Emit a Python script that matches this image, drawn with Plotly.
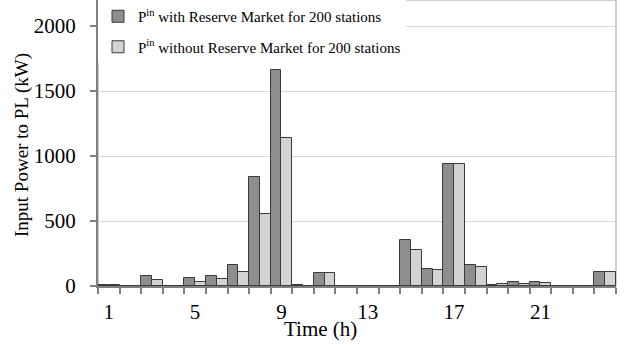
import plotly.graph_objects as go

hours = list(range(1, 25))
with_reserve = [5, 0, 77, 0, 59, 79, 161, 838, 1665, 5, 100, 0,
                0, 0, 354, 131, 942, 159, 5, 30, 30, 0, 0, 108]
without_reserve = [5, 0, 48, 0, 28, 51, 107, 557, 1142, 0, 100, 0,
                   0, 0, 280, 125, 942, 143, 15, 18, 25, 0, 0, 108]
x_tick_vals = [1, 5, 9, 13, 17, 21]
x_tick_text = ["1", "5", "9", "13", "17", "21"]
y_tick_vals = [0, 500, 1000, 1500, 2000]

FONT = "Liberation Serif, Times New Roman, serif"

fig = go.Figure()
fig.add_trace(go.Bar(
    x=hours, y=with_reserve,
    name="P<sup>in</sup> with Reserve Market for 200 stations",
    marker=dict(color="#8e8e8e", line=dict(color="#3a3a3a", width=1)),
    legendgroup="a",
))
fig.add_trace(go.Bar(
    x=hours, y=without_reserve,
    name="P<sup>in</sup> without Reserve Market for 200 stations",
    marker=dict(color="#d3d3d3", line=dict(color="#3a3a3a", width=1)),
    legendgroup="b",
))

fig.update_layout(
    width=633, height=345,
    margin=dict(l=98, r=17, t=0, b=59),
    paper_bgcolor="white", plot_bgcolor="white",
    barmode="group", bargap=0, bargroupgap=0,
    font=dict(family=FONT, color="black", size=20),
    showlegend=True,
    legend=dict(
        x=0, y=1, xanchor="left", yanchor="top",
        bgcolor="white", borderwidth=0,
        font=dict(family=FONT, size=15, color="black"),
        traceorder="grouped", tracegroupgap=8,
        itemwidth=30,
    ),
    xaxis=dict(
        range=[0.5, 24.5],
        tickmode="array", tickvals=x_tick_vals, ticktext=x_tick_text,
        ticks="", showgrid=False, zeroline=False,
        showline=True, linecolor="#7f7f7f", linewidth=2,
        ticklabelstandoff=6,
        tickfont=dict(family=FONT, size=21, color="black"),
        minor=dict(tickvals=[h - 0.5 for h in hours] + [24.5],
                   ticks="outside", ticklen=6, tickcolor="#7f7f7f",
                   tickwidth=2, showgrid=False),
    ),
    yaxis=dict(
        range=[0, 2200],
        tickmode="array", tickvals=y_tick_vals,
        ticks="outside", ticklen=6, tickcolor="#7f7f7f", tickwidth=2,
        showgrid=True, gridcolor="#d9d9d9", gridwidth=1,
        zeroline=False,
        showline=True, linecolor="#7f7f7f", linewidth=2,
        ticklabelstandoff=10,
        tickfont=dict(family=FONT, size=21, color="black"),
    ),
    shapes=[dict(type="rect", xref="paper", yref="paper", x0=0, x1=1, y0=0, y1=1,
                 line=dict(color="#bfbfbf", width=1.5), layer="below")],
    annotations=[
        dict(text="Time (h)", xref="paper", yref="paper",
             x=(320 - 98) / 518, y=-(329 - 286) / 286, showarrow=False,
             xanchor="center", yanchor="middle",
             font=dict(family=FONT, size=21, color="black")),
        dict(text="Input Power to PL (kW)", xref="paper", yref="paper",
             x=-(98 - 22) / 518, y=(286 - 145) / 286, showarrow=False,
             textangle=-90, xanchor="center", yanchor="middle",
             font=dict(family=FONT, size=19, color="black")),
    ],
)

fig.write_html("out.html")
